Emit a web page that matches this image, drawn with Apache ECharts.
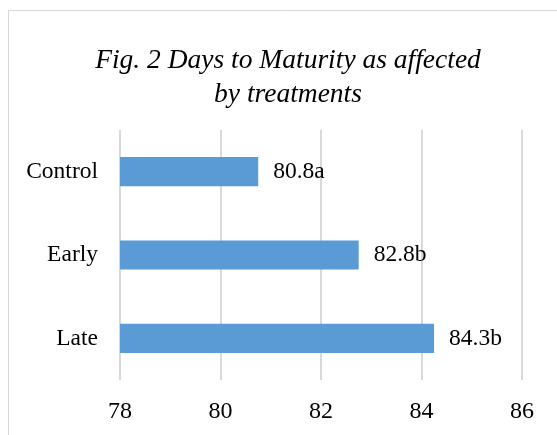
<!DOCTYPE html>
<html>
<head>
<meta charset="utf-8">
<script src="https://cdn.jsdelivr.net/npm/echarts@6/dist/echarts.min.js"></script>
<style>
  html, body { margin: 0; padding: 0; background: #fff; }
  #chart { width: 557px; height: 435px; }
</style>
</head>
<body>
<div id="chart"></div>
<script>
// data
var categories = ['Late', 'Early', 'Control'];
var values = [84.25, 82.75, 80.75];
var labels = ['84.3b', '82.8b', '80.8a'];
var ticks = [78, 80, 82, 84, 86];

var serif = '"Liberation Serif", "Times New Roman", serif';
var chart = echarts.init(document.getElementById('chart'));

chart.setOption({
  backgroundColor: '#fff',
  animation: false,
  graphic: [{
    type: 'rect',
    shape: { x: 8.5, y: 10.5, width: 600, height: 500 },
    style: { fill: 'none', stroke: '#d9d9d9', lineWidth: 1 },
    silent: true
  }],
  title: {
    text: 'Fig. 2 Days to Maturity as affected\nby treatments',
    left: 283,
    top: 39,
    textAlign: 'center',
    textStyle: {
      fontFamily: serif,
      fontStyle: 'italic',
      fontWeight: 'normal',
      fontSize: 27.5,
      lineHeight: 34,
      color: '#000'
    }
  },
  grid: { left: 120, right: 35, top: 130, bottom: 55, containLabel: false },
  xAxis: {
    type: 'value',
    min: ticks[0],
    max: ticks[ticks.length - 1],
    interval: 2,
    axisLine: { show: false },
    axisTick: { show: false },
    splitLine: { lineStyle: { color: '#d9d9d9', width: 2 } },
    axisLabel: { margin: 20, fontFamily: serif, fontSize: 24, color: '#000' }
  },
  yAxis: {
    type: 'category',
    data: categories,
    axisLine: { show: false },
    axisTick: { show: false },
    axisLabel: { margin: 22, fontFamily: serif, fontSize: 23.5, color: '#000' }
  },
  series: [{
    type: 'bar',
    data: values,
    barWidth: '35%',
    itemStyle: { color: '#5b9bd5' },
    label: {
      show: true,
      position: 'right',
      distance: 15,
      fontFamily: serif,
      fontSize: 23.5,
      color: '#000',
      formatter: function (p) { return labels[p.dataIndex]; }
    }
  }]
});
</script>
</body>
</html>
